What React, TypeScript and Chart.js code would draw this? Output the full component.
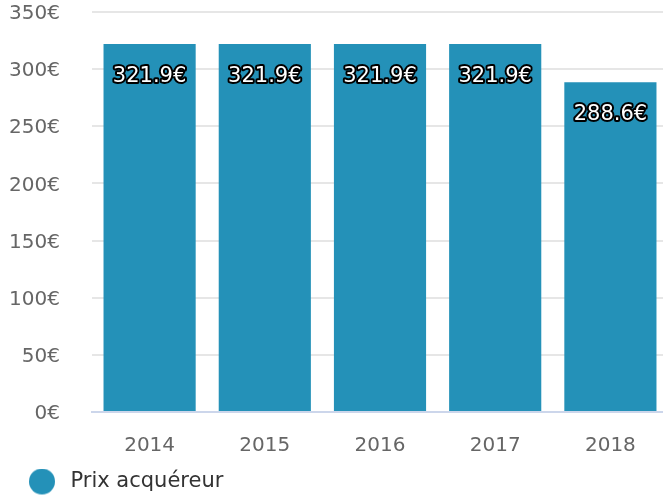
import React, { useEffect, useRef } from "react";
import { Chart, registerables } from "chart.js";

Chart.register(...registerables);

const categories = ["2014", "2015", "2016", "2017", "2018"];
const values = [321.9, 321.9, 321.9, 321.9, 288.6];
const yTicks = [0, 50, 100, 150, 200, 250, 300, 350];
const seriesName = "Prix acquéreur";

const FONT = "'DejaVu Sans', sans-serif";
const BAR_COLOR = "#2491b8";

const labelPlugin = {
  id: "valueLabels",
  afterDatasetsDraw(chart: any) {
    const ctx = chart.ctx;
    const meta = chart.getDatasetMeta(0);
    ctx.save();
    ctx.font = `21px ${FONT}`;
    ctx.textAlign = "center";
    ctx.textBaseline = "middle";
    ctx.lineJoin = "round";
    meta.data.forEach((bar: any, i: number) => {
      const txt = values[i].toFixed(1) + "€";
      const y = bar.y + 32;
      ctx.lineWidth = 4;
      ctx.strokeStyle = "#000000";
      ctx.strokeText(txt, bar.x, y);
      ctx.fillStyle = "#ffffff";
      ctx.fillText(txt, bar.x, y);
    });
    ctx.restore();
  },
};

function makeLegendMarker() {
  const c = document.createElement("canvas");
  c.width = 60;
  c.height = 28;
  const g = c.getContext("2d")!;
  g.fillStyle = BAR_COLOR;
  g.beginPath();
  g.arc(41, 14, 13, 0, Math.PI * 2);
  g.fill();
  return c;
}

export default function App() {
  const ref = useRef<HTMLCanvasElement>(null);
  useEffect(() => {
    if (!ref.current) return;
    const marker = makeLegendMarker();
    const chart = new Chart(ref.current, {
      type: "bar",
      data: {
        labels: categories,
        datasets: [
          {
            label: seriesName,
            data: values,
            backgroundColor: BAR_COLOR,
            categoryPercentage: 1,
            barPercentage: 0.8,
            pointStyle: marker as any,
          },
        ],
      },
      options: {
        animation: false,
        responsive: true,
        maintainAspectRatio: false,
        layout: { padding: { left: 0, right: 0, top: 0, bottom: -7 } },
        plugins: {
          tooltip: { enabled: false },
          legend: {
            position: "bottom",
            align: "start",
            labels: {
              usePointStyle: true,
              pointStyleWidth: 58,
              boxHeight: 20,
              color: "#333333",
              font: { family: FONT, size: 21 },
              padding: 2,
            },
          },
        },
        scales: {
          x: {
            grid: { display: false, drawTicks: false },
            border: { display: true, color: "#ccd6eb", width: 2 },
            ticks: {
              color: "#666666",
              font: { family: FONT, size: 20 },
              padding: 22,
            },
            afterFit(axis: any) {
              axis.height = 57;
              axis.paddingRight = 0;
            },
          },
          y: {
            min: 0,
            max: 350,
            afterBuildTicks(axis: any) {
              axis.ticks = yTicks.map((v) => ({ value: v }));
            },
            grid: { color: "#e6e6e6", lineWidth: 2, drawTicks: false },
            border: { display: false },
            ticks: {
              color: "#666666",
              font: { family: FONT, size: 20 },
              padding: 32,
              labelOffset: 2,
              callback: (v: any) => v + "€",
            },
            afterFit(axis: any) {
              axis.width = 92;
              axis.paddingTop = 12;
              axis.paddingBottom = 0;
            },
          },
        },
      },
      plugins: [labelPlugin],
    });
    return () => chart.destroy();
  }, []);
  return (
    <div style={{ position: "absolute", left: 0, top: 0, width: 663, height: 495, overflow: "hidden" }}>
      <div style={{ position: "relative", width: 668, height: 495 }}>
        <canvas ref={ref} />
      </div>
    </div>
  );
}
